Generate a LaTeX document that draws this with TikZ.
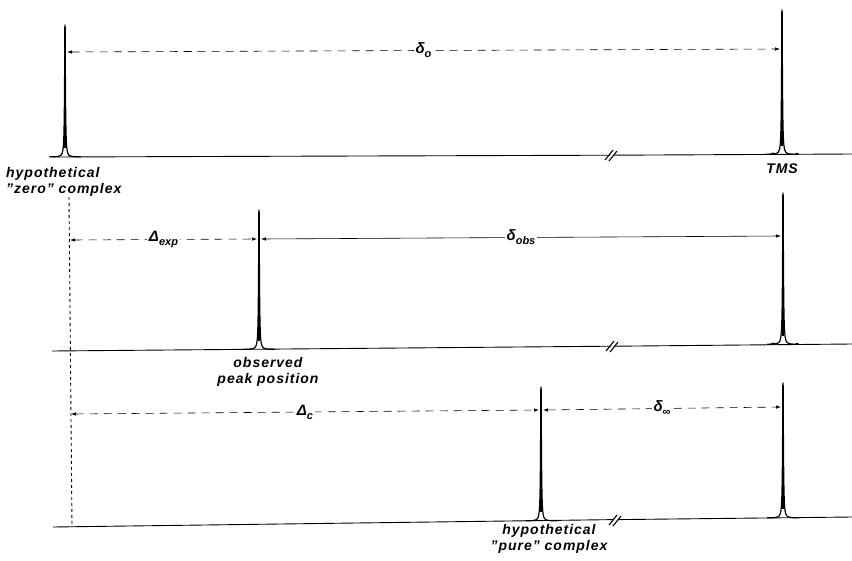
\documentclass[tikz,border=0pt]{standalone}
\usepackage{fontspec}
\setmainfont{Liberation Sans}
\usetikzlibrary{arrows.meta,positioning,calc}
\newcommand{\lowsub}[1]{\raisebox{-4pt}{\fontsize{11}{11}\selectfont #1}}
\newcommand{\dq}{\symbol{34}}
% x, base y, top y of one line of the spectrum
\newcommand{\nmrpeak}[3]{%
  \draw[trace, line width=1.2pt] plot[domain=-16:16, samples=321] ({#1+\x},{#2-(#2-#3)*0.25/(\x*\x+0.25)});
  \draw[line width=1.3pt] (#1,#2-9) -- (#1,#3+2);}

\begin{document}
\begin{tikzpicture}[x=1pt, y=-1pt,
    trace/.style={line width=0.9pt, line join=round},
    dimline/.style={{Latex[length=5pt,width=3.5pt]}-{Latex[length=5pt,width=3.5pt]}, line width=0.6pt},
    dashdim/.style={dimline, dash pattern=on 8pt off 6pt},
    guide/.style={line width=0.9pt, dash pattern=on 3pt off 3pt},
    brk/.style={line width=1.1pt},
    lbl/.style={font=\fontsize{14}{16}\selectfont\bfseries\itshape\addfontfeature{LetterSpace=7}, inner sep=1pt},
    dimlbl/.style={font=\fontsize{15}{16}\selectfont\bfseries\itshape, fill=white, inner sep=2pt}
  ]
  \useasboundingbox (0,0) rectangle (852,560);

  % top spectrum
  \draw[trace] (52,157) -- (610,155.2);
  \draw[trace] (614,155.2) -- (852,154);
  \draw[brk] (605,160) -- (613,150) (609,161) -- (617,151);
  \nmrpeak{65}{157}{25}
  \nmrpeak{782}{154.5}{10}
  \draw[trace] (770,154.6) .. controls (773,152.5) .. (776,154.5);
  \draw[trace] (795,154.4) .. controls (797,152.8) .. (799,154.4);

  % middle spectrum
  \draw[trace] (52,351) -- (611,346.2);
  \draw[trace] (615,346.2) -- (852,344);
  \draw[brk] (606,351) -- (614,341) (610,352) -- (618,342);
  \nmrpeak{259}{349.5}{210}
  \nmrpeak{783}{344.5}{193}
  \draw[trace] (770,344.7) .. controls (773,342.5) .. (776,344.6);
  \draw[trace] (795,344.5) .. controls (797,342.8) .. (799,344.5);

  % bottom spectrum
  \draw[trace] (53,527) -- (614,519.6);
  \draw[trace] (618,519.6) -- (852,517);
  \draw[brk] (609,525) -- (617,515) (613,526) -- (621,516);
  \nmrpeak{541}{521}{387}
  \nmrpeak{783}{518}{383}

  % reference line of the zero complex
  \coordinate (zerotop) at (69,197);
  \coordinate (zerobot) at (72,527);
  \draw[guide] (zerotop) -- (zerobot);

  % end points of the shifts
  \coordinate (o1) at (67,52);
  \coordinate (o2) at (780,49);
  \coordinate (e1) at (70,240);
  \coordinate (e2) at (257,239);
  \coordinate (s1) at (261,239);
  \coordinate (s2) at (781,236);
  \coordinate (c1) at (71,414);
  \coordinate (c2) at (539,410);
  \coordinate (i1) at (543,410);
  \coordinate (i2) at (781,407);

  \draw[dashdim] (o1) -- node[dimlbl] (dlo) {δ\lowsub{o}} (o2);
  \draw[dashdim] (e1) -- node[dimlbl] (dlexp) {Δ\lowsub{exp}} (e2);
  \draw[dimline] (s1) -- node[dimlbl] (dlobs) {δ\lowsub{obs}} (s2);
  \draw[dashdim] (c1) -- node[dimlbl] (dlc) {Δ\lowsub{c}} (c2);
  \draw[dashdim] (i1) -- node[dimlbl] (dlinf) {δ\lowsub{∞}} (i2);

  % peak labels
  \node[lbl, anchor=north west, align=left] (zerolbl) at (5,166) {hypothetical\\ \dq zero\dq{} complex};
  \node[lbl, anchor=north] (tmslbl) at (782,163) {TMS};
  \node[lbl, anchor=north, align=center] (obslbl) at (268,356) {observed\\peak position};
  \node[lbl, anchor=north, align=center] (purelbl) at (549,523) {hypothetical\\\dq pure\dq{} complex};
\end{tikzpicture}
\end{document}
